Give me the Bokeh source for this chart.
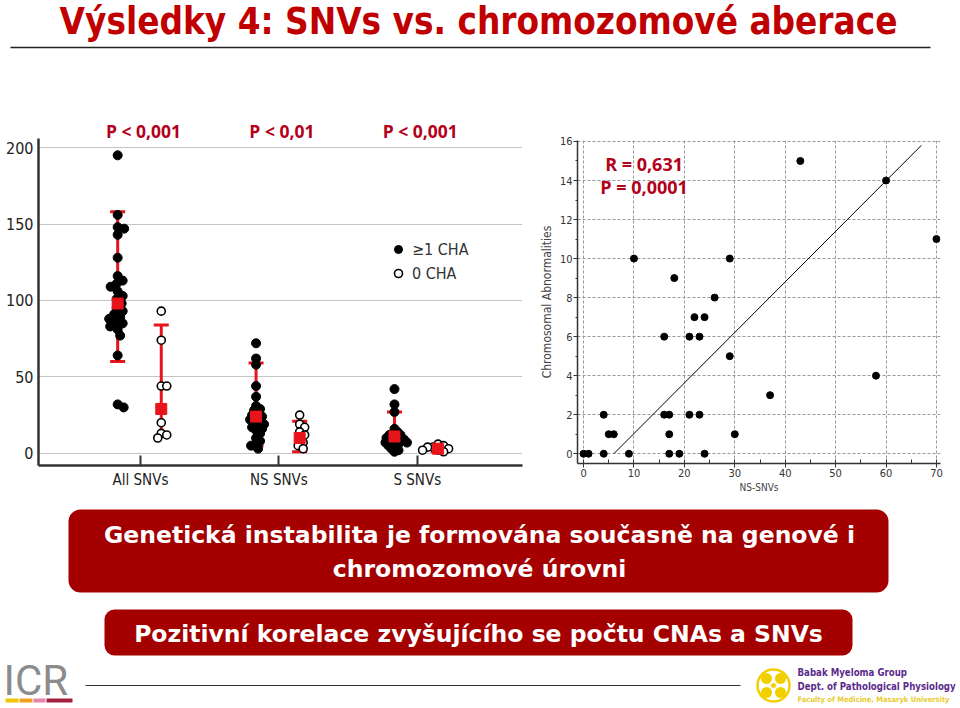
import numpy as np
from bokeh.plotting import figure
from bokeh.layouts import column, row
from bokeh.models import (Range1d, FixedTicker, Whisker, TeeHead, ColumnDataSource,
                          Label, BoxAnnotation, Legend, LegendItem)
from bokeh.embed import file_html
from bokeh.resources import INLINE
from bokeh.core.properties import value

# ---------------- data ----------------
slide_title = "Výsledky 4: SNVs vs. chromozomové aberace"
categories = ["All SNVs", "NS SNVs", "S SNVs"]
p_values = ["P < 0,001", "P < 0,01", "P < 0,001"]
legend_labels = ["≥1 CHA", "0 CHA"]

all_cha = [195, 156, 148, 147, 143, 128, 116, 113, 111, 109, 106, 103, 101, 98, 95,
           93, 91, 89, 88, 86, 85, 83, 81, 77, 64, 32, 30]
all_nocha = [93, 74, 44, 44, 20, 13, 12, 10]
ns_cha = [72, 62, 58, 44, 37, 31, 29, 28, 26, 25, 24, 23, 22, 21, 20, 19, 18, 17, 16,
          15, 13, 10, 8, 6, 5, 3]
ns_nocha = [25, 19, 17, 14, 12, 10, 7, 5, 3]
s_cha = [42, 32, 27, 16, 14, 13, 12, 12, 11, 10, 10, 9, 9, 8, 8, 7, 7, 6, 6, 5, 4, 3, 2, 1]
s_nocha = [6, 5, 4, 4, 3, 2, 2, 1]

# mean and error bar limits per group: All(cha, no), NS(cha, no), S(cha, no)
group_mean = [98, 29, 24, 10, 11, 3]
group_low = [60, 11, 5, 1, 3, 1]
group_high = [158, 84, 59, 21, 27, 5]

ns_snvs = [0, 1, 4, 4, 5, 6, 9, 10, 16, 16, 17, 17, 17, 18, 19, 21, 21, 22, 23, 23, 24,
           24, 26, 29, 29, 30, 37, 43, 58, 60, 70]
cha_count = [0, 0, 0, 2, 1, 1, 0, 10, 6, 2, 2, 1, 0, 9, 0, 6, 2, 7, 6, 2, 7,
             0, 8, 10, 5, 1, 3, 15, 4, 14, 11]
fit_x = [6, 67]
fit_y = [0, 15.8]
r_text = "R = 0,631"
p_text = "P = 0,0001"

box1_lines = ["Genetická instabilita je formována současně na genové i", "chromozomové úrovni"]
box2_text = "Pozitivní korelace zvyšujícího se počtu CNAs a SNVs"
logo_lines = ["Babak Myeloma Group", "Dept. of Pathological Physiology",
              "Faculty of Medicine, Masaryk University"]

# ---------------- styles ----------------
NARROW = "DejaVu Sans Condensed"
PFONT = "Open Sans"
BOXFONT = "DejaVu Sans"
DARKRED = "#C00000"
PRED = "#B3001B"
BOXRED = "#A50000"
ERRRED = "#E8141C"
W = 960


def canvas(w, h):
    f = figure(width=w, height=h, x_range=Range1d(0, w), y_range=Range1d(h, 0),
               toolbar_location=None, output_backend="svg", min_border=0,
               x_axis_type=None, y_axis_type=None, outline_line_color=None)
    f.grid.visible = False
    return f


# ---------------- title area (ref y 0..110) ----------------
top = canvas(W, 110)
top.text(x=[478], y=[21], text=[slide_title], text_align="center", text_baseline="middle",
         text_font=value(NARROW), text_font_style="bold", text_font_size="36.5px",
         text_color=DARKRED)
top.segment(x0=[10], y0=[47], x1=[930], y1=[47], line_color="#222222", line_width=1.5)

# ---------------- left chart (ref y 110..500) ----------------
XS = 138.4  # px per x unit
YS = 1.528  # px per y unit
left = figure(width=530, height=390, x_range=Range1d(0.263, 3.76),
              y_range=Range1d(-8, -8 + 355 / YS),
              toolbar_location=None, output_backend="svg", min_border_left=38,
              min_border_right=8, min_border_top=0, min_border_bottom=35,
              outline_line_color=None)


def swarm_offsets(vals, diam):
    vals = np.asarray(vals, float)
    order = np.argsort(-vals)
    placed = []
    offs = np.zeros(len(vals))
    cands = [0.0]
    for k in range(1, 120):
        cands += [k * 0.5, -k * 0.5]
    for i in order:
        yp = vals[i] * YS
        for c in cands:
            if all((c - px) ** 2 + (yp - py) ** 2 >= diam ** 2 for px, py in placed):
                offs[i] = c
                placed.append((c, yp))
                break
    return offs / XS


side = [-0.165, 0.15]
swarm_d = [6.5, 5.0, 4.2]
fx, fy, ox, oy = [], [], [], []
for ci, (cha, no) in enumerate([(all_cha, all_nocha), (ns_cha, ns_nocha), (s_cha, s_nocha)]):
    c = ci + 1
    fx += list(c + side[0] + swarm_offsets(cha, swarm_d[ci]))
    fy += list(cha)
    ox += list(c + side[1] + swarm_offsets(no, 5.5))
    oy += list(no)

r_f = left.scatter(fx, fy, size=9, fill_color="black", line_color="black")
r_o = left.scatter(ox, oy, size=8, fill_color="white", line_color="black", line_width=1.6)

gx = [c + s for c in (1, 2, 3) for s in side]
src = ColumnDataSource(dict(x=gx, mean=group_mean, lo=group_low, hi=group_high))
wh = Whisker(base="x", lower="lo", upper="hi", source=src, dimension="height",
             line_color=ERRRED, line_width=3,
             upper_head=TeeHead(size=15, line_color=ERRRED, line_width=3),
             lower_head=TeeHead(size=15, line_color=ERRRED, line_width=3))
left.add_layout(wh)
left.scatter("x", "mean", source=src, marker="square", size=11, fill_color=ERRRED,
             line_color=ERRRED)

# p-values above each category (8 px above the plotted ceiling)
left.text(x=[1, 2, 3], y=[206 + 8 / YS] * 3, text=p_values, text_align="center", x_offset=3,
          text_baseline="middle", text_font=value(PFONT), text_font_style="bold",
          text_font_size="17.5px", text_color=PRED)

left.xaxis.ticker = FixedTicker(ticks=[1, 2, 3])
left.xaxis.major_label_overrides = {1: categories[0], 2: categories[1], 3: categories[2]}
left.xaxis.major_tick_in = 10
left.xaxis.major_tick_out = 0
left.xaxis.major_tick_line_width = 2
left.xaxis.major_tick_line_color = "#333333"
left.xaxis.minor_tick_line_color = None
left.xaxis.axis_line_width = 2.5
left.xaxis.axis_line_color = "#333333"
left.xaxis.major_label_text_font = NARROW
left.xaxis.major_label_text_font_size = "15px"
left.xaxis.major_label_text_color = "#222222"
left.xaxis.major_label_standoff = 5

left.yaxis.ticker = FixedTicker(ticks=[0, 50, 100, 150, 200])
left.yaxis.bounds = (-8, 206)
left.yaxis.major_tick_in = 0
left.yaxis.major_tick_out = 0
left.yaxis.minor_tick_line_color = None
left.yaxis.axis_line_width = 2.5
left.yaxis.axis_line_color = "#333333"
left.yaxis.major_label_text_font = NARROW
left.yaxis.major_label_text_font_size = "16px"
left.yaxis.major_label_text_color = "#222222"
left.yaxis.major_label_standoff = 5

left.xgrid.visible = False
left.ygrid.grid_line_color = "#888888"
left.ygrid.grid_line_dash = "1 1"
left.ygrid.grid_line_width = 1

leg = Legend(items=[LegendItem(label=legend_labels[0], renderers=[r_f]),
                    LegendItem(label=legend_labels[1], renderers=[r_o])],
             location=(350, 182), background_fill_alpha=0, border_line_alpha=0,
             padding=0, spacing=4, glyph_height=20, glyph_width=20, label_height=20,
             label_standoff=4, margin=0, label_text_font=NARROW,
             label_text_font_size="16px", label_text_color="#333333")
left.add_layout(leg)

# ---------------- right chart (ref y 110..500, x 530..960) ----------------
right = figure(width=430, height=390, x_range=Range1d(-1.2, 70.8), y_range=Range1d(-0.5, 16.05),
               toolbar_location=None, output_backend="svg", min_border_left=47,
               min_border_right=20, min_border_top=30, min_border_bottom=37,
               outline_line_color=None)
right.scatter(ns_snvs, cha_count, size=7, fill_color="black", line_color="black")
right.line(fit_x, fit_y, line_color="black", line_width=1)

right.xaxis.ticker = FixedTicker(ticks=list(range(0, 71, 10)), minor_ticks=list(range(5, 70, 10)))
right.yaxis.ticker = FixedTicker(ticks=list(range(0, 17, 2)), minor_ticks=list(range(1, 16, 2)))
for ax in (right.xaxis, right.yaxis):
    ax.axis_line_color = "#333333"
    ax.axis_line_width = 1.5
    ax.major_tick_line_color = "#333333"
    ax.minor_tick_line_color = "#333333"
    ax.major_label_text_font = NARROW
    ax.major_label_text_font_size = "11px"
    ax.major_label_text_color = "#333333"
    ax.axis_label_text_font = NARROW
    ax.axis_label_text_font_style = "normal"
    ax.axis_label_text_color = "#444444"
right.xaxis.major_tick_in = 4
right.xaxis.major_tick_out = 4
right.xaxis.minor_tick_in = 4
right.xaxis.minor_tick_out = 0
right.xaxis.major_label_standoff = 1
right.xaxis.axis_label = "NS-SNVs"
right.xaxis.axis_label_standoff = 2
right.yaxis.major_tick_in = 0
right.yaxis.major_tick_out = 4
right.yaxis.minor_tick_in = 0
right.yaxis.minor_tick_out = 2
right.yaxis.major_label_standoff = 1
right.yaxis.axis_label = "Chromosomal Abnormalities"
right.yaxis.axis_label_standoff = 3
right.xaxis.axis_label_text_font_size = "10px"
right.yaxis.axis_label_text_font_size = "12px"

for g in (right.xgrid, right.ygrid):
    g.grid_line_color = "#999999"
    g.grid_line_dash = "3 2"
    g.grid_line_width = 1

right.add_layout(Label(x=12, y=14.85, text=r_text, text_align="center", text_baseline="middle",
                       text_font=PFONT, text_font_style="bold", text_font_size="18px",
                       text_color=PRED))
right.add_layout(Label(x=12, y=13.65, text=p_text, text_align="center", text_baseline="middle",
                       text_font=PFONT, text_font_style="bold", text_font_size="18px",
                       text_color=PRED))

# ---------------- bottom area (ref y 500..708) ----------------
bot = canvas(W, 208)
bot.add_layout(BoxAnnotation(left=68, right=888, top=9, bottom=92, fill_color=BOXRED,
                             fill_alpha=1, line_color=None, border_radius=12, level="underlay"))
bot.add_layout(BoxAnnotation(left=104, right=852, top=109, bottom=155, fill_color=BOXRED,
                             fill_alpha=1, line_color=None, border_radius=10, level="underlay"))
bot.text(x=[479, 479], y=[34, 68], text=box1_lines, text_align="center", text_baseline="middle",
         text_font=value(BOXFONT), text_font_style="bold", text_font_size="23.5px",
         text_color="white")
bot.text(x=[478], y=[133], text=[box2_text], text_align="center", text_baseline="middle",
         text_font=value(BOXFONT), text_font_style="bold", text_font_size="23.5px",
         text_color="white")

# footer: ICR logo
bot.text(x=[3], y=[180], text=["ICR"], text_align="left", text_baseline="middle",
         text_font=value("Roboto"), text_font_size="42px", text_color="#8c8c8c")
bot.quad(left=[5, 19, 33, 46], right=[18, 32, 45, 72], top=[198] * 4, bottom=[202] * 4,
         fill_color=["#F2C400", "#F0A020", "#E585AE", "#A3203F"], line_color=None)
bot.segment(x0=[85], y0=[185], x1=[740], y1=[185], line_color="#333333", line_width=1.2)

# footer: right logo
bot.circle(x=[773], y=[185], radius=16, fill_color=None, line_color="#F2D000", line_width=2.5)
bot.circle(x=[766, 780, 766, 780], y=[178, 178, 192, 192], radius=5.5, fill_color="#F2D000",
           line_color=None)
bot.circle(x=[773], y=[185], radius=3, fill_color="#F2D000", line_color="white", line_width=1)
bot.text(x=[797, 797], y=[172, 186], text=logo_lines[:2],
         text_align="left", text_baseline="middle", text_font=value(NARROW),
         text_font_style="bold", text_font_size="9.6px", text_color="#5B2C8C")
bot.text(x=[797], y=[199], text=logo_lines[2:], text_align="left",
         text_baseline="middle", text_font=value(NARROW), text_font_style="bold",
         text_font_size="7.5px", text_color="#E8CC30")

layout = column(top, row(column(left), column(right), spacing=0), bot, spacing=0)
open("out.html", "w").write(file_html(layout, INLINE))
